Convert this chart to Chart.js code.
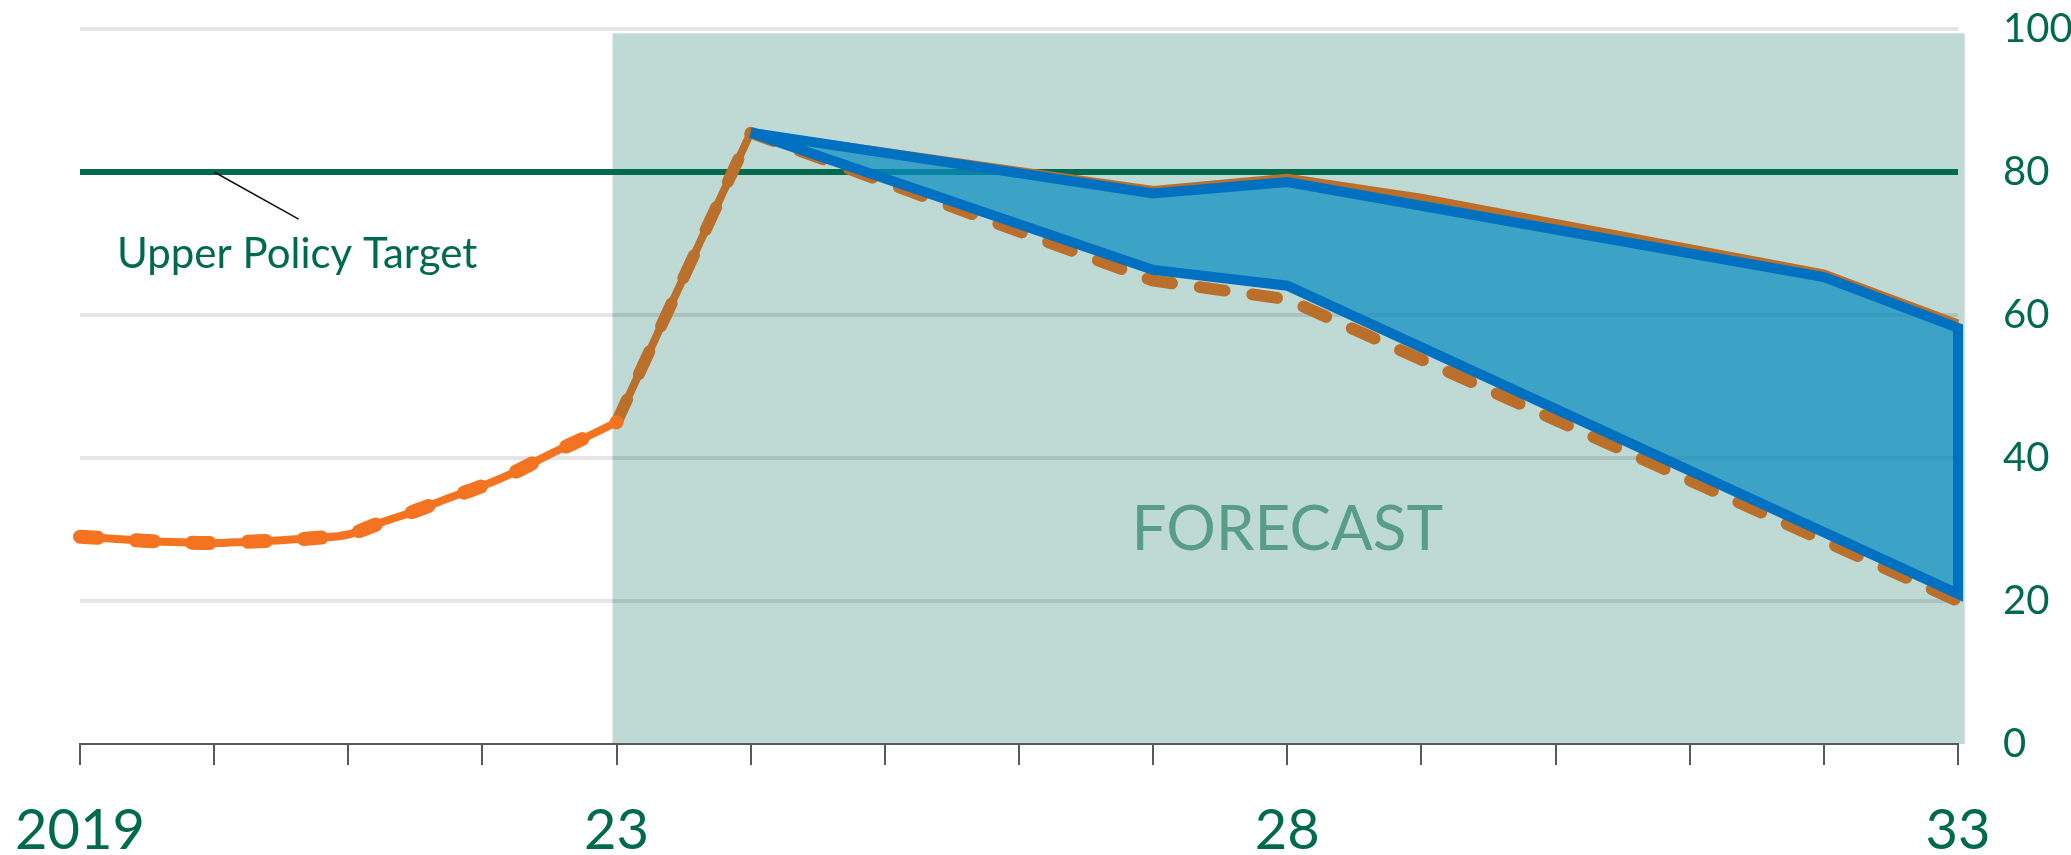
<!DOCTYPE html>
<html>
<head>
<meta charset="utf-8">
<script src="https://cdn.jsdelivr.net/npm/chart.js@4.4.0/dist/chart.umd.min.js"></script>
<style>
  html, body { margin: 0; padding: 0; background: #ffffff; }
  #wrap { width: 2071px; height: 855px; position: relative; }
</style>
</head>
<body>
<div id="wrap"><canvas id="chart" width="2071" height="855"></canvas></div>
<script>
// ---- data ----
// Actual (quarterly) history
const histYears  = [2019, 2019.25, 2019.5, 2019.75, 2020, 2020.25, 2020.5, 2020.75,
                    2021, 2021.25, 2021.5, 2021.75, 2022, 2022.25, 2022.5, 2022.75, 2023];
const histValues = [29.0, 28.7, 28.4, 28.2, 28.1, 28.3, 28.5, 28.8,
                    29.3, 31.0, 32.6, 34.4, 36.1, 38.1, 40.5, 42.7, 45.0];

// High scenario (solid brown)
const highYears  = [2023, 2024, 2027, 2028, 2029, 2032, 2033];
const highValues = [45.0, 85.5, 77.5, 79.2, 76.4, 65.8, 58.8];

// Low scenario (dashed brown)
const lowYears  = [2023, 2024, 2027, 2028, 2033];
const lowValues = [45.0, 85.5, 64.8, 62.2, 20.0];

// Forecast range band (blue)
const bandUpperYears  = [2024, 2027, 2028, 2032, 2033];
const bandUpperValues = [85.5, 77.0, 78.6, 65.3, 58.2];
const bandLowerYears  = [2024, 2027, 2028, 2033];
const bandLowerValues = [85.5, 66.3, 64.1, 21.0];

// Upper policy target
const targetYears  = [2019, 2033];
const targetValues = [80, 80];

// Axis labels
const xLabelYears = [2019, 2023, 2028, 2033];
const xLabelTexts = ['2019', '23', '28', '33'];
const yTicks = [0, 20, 40, 60, 80, 100];

// Forecast period extent
const forecastFrom = 2022.97;
const forecastTo   = 2033.05;
const forecastTop  = 99.4;

// ---- styling ----
const GREEN  = 'rgb(0,106,78)';
const ORANGE = 'rgb(244,115,32)';
const BROWN  = 'rgb(186,112,42)';
const BLUE   = 'rgb(0,112,192)';
const BAND   = 'rgba(10,140,192,0.72)';
const SHADE  = 'rgb(191,218,213)';
const FONT   = 'Lato, "Open Sans", sans-serif';

const pts = (xs, ys) => xs.map((x, i) => ({ x: x, y: ys[i] }));

// closed outline of the forecast range: upper edge out, lower edge back
const bandOutline = pts(bandUpperYears, bandUpperValues)
  .concat(pts(bandLowerYears, bandLowerValues).reverse());

const forecastShade = {
  id: 'forecastShade',
  beforeDraw(chart) {
    const { ctx, scales: { x, y } } = chart;
    const l = x.getPixelForValue(forecastFrom);
    const r = x.getPixelForValue(forecastTo);
    const t = y.getPixelForValue(forecastTop);
    const b = y.getPixelForValue(0);
    ctx.save();
    ctx.fillStyle = SHADE;
    ctx.fillRect(l, t, r - l, b - t);
    ctx.restore();
  },
  beforeDatasetsDraw(chart) {
    const { ctx, scales: { x, y } } = chart;
    ctx.save();
    ctx.fillStyle = 'rgb(88,157,134)';
    ctx.font = '62px ' + FONT;
    ctx.textAlign = 'center';
    ctx.textBaseline = 'alphabetic';
    ctx.fillText('FORECAST', x.getPixelForValue(2028), y.getPixelForValue(27.2));
    ctx.restore();
  },
  afterDatasetsDraw(chart) {
    const { ctx, scales: { x, y } } = chart;
    ctx.save();
    ctx.strokeStyle = '#111111';
    ctx.lineWidth = 1.5;
    ctx.beginPath();
    ctx.moveTo(x.getPixelForValue(2020), y.getPixelForValue(80));
    ctx.lineTo(x.getPixelForValue(2020.63), y.getPixelForValue(73.4));
    ctx.stroke();
    ctx.fillStyle = GREEN;
    ctx.font = '42px ' + FONT;
    ctx.textAlign = 'left';
    ctx.textBaseline = 'alphabetic';
    ctx.fillText('Upper Policy Target', x.getPixelForValue(2019.276), y.getPixelForValue(66.6));
    ctx.restore();
  }
};

new Chart(document.getElementById('chart'), {
  type: 'line',
  data: {
    datasets: [
      { label: 'Upper Policy Target', data: pts(targetYears, targetValues),
        borderColor: GREEN, borderWidth: 6, order: 7 },
      { label: 'High scenario', data: pts(highYears, highValues),
        borderColor: BROWN, borderWidth: 8, order: 6 },
      { label: 'Low scenario', data: pts(lowYears, lowValues),
        borderColor: BROWN, borderWidth: 12, borderDash: [25, 28], borderCapStyle: 'round', order: 5 },
      { label: 'Forecast range', data: bandOutline,
        borderColor: BLUE, borderWidth: 10, backgroundColor: BAND, fill: 'shape',
        borderJoinStyle: 'miter', order: 4 },
      { label: 'Actual', data: pts(histYears, histValues),
        borderColor: ORANGE, borderWidth: 8, cubicInterpolationMode: 'monotone', order: 3 },
      { label: 'Actual dashes', data: pts(histYears, histValues),
        borderColor: ORANGE, borderWidth: 14, borderDash: [18, 38], borderCapStyle: 'round',
        cubicInterpolationMode: 'monotone', order: 2 }
    ]
  },
  options: {
    responsive: false,
    animation: false,
    events: [],
    layout: { padding: { left: 80, top: 29, right: 0, bottom: 0 } },
    plugins: { legend: { display: false }, tooltip: { enabled: false } },
    elements: {
      point: { radius: 0 },
      line: { tension: 0, borderJoinStyle: 'round', fill: false }
    },
    datasets: { line: { clip: false } },
    scales: {
      x: {
        type: 'linear', min: 2019, max: 2033,
        ticks: {
          stepSize: 1, autoSkip: false, maxRotation: 0, padding: 32,
          color: GREEN, font: { family: FONT, size: 56 },
          callback: v => { const i = xLabelYears.indexOf(v); return i >= 0 ? xLabelTexts[i] : ''; }
        },
        grid: { drawOnChartArea: false, drawTicks: true, tickLength: 21, color: '#595959', lineWidth: 2 },
        border: { display: true, color: '#595959', width: 2 },
        afterFit(s) { s.height = 111; s.paddingLeft = 0; s.paddingRight = 0; }
      },
      y: {
        position: 'right', min: 0, max: 100,
        afterBuildTicks(s) { s.ticks = yTicks.map(v => ({ value: v })); },
        ticks: { padding: 4, color: GREEN, font: { family: FONT, size: 40 } },
        grid: {
          drawTicks: true, tickLength: 41, tickColor: 'rgba(0,0,0,0)', lineWidth: 4,
          color: c => (c.tick && c.tick.value === 0) ? 'rgba(0,0,0,0)' : 'rgba(0,0,0,0.1)'
        },
        border: { display: false },
        afterFit(s) { s.width = 113; s.paddingTop = 0; s.paddingBottom = 0; }
      }
    }
  },
  plugins: [forecastShade]
});
</script>
</body>
</html>
